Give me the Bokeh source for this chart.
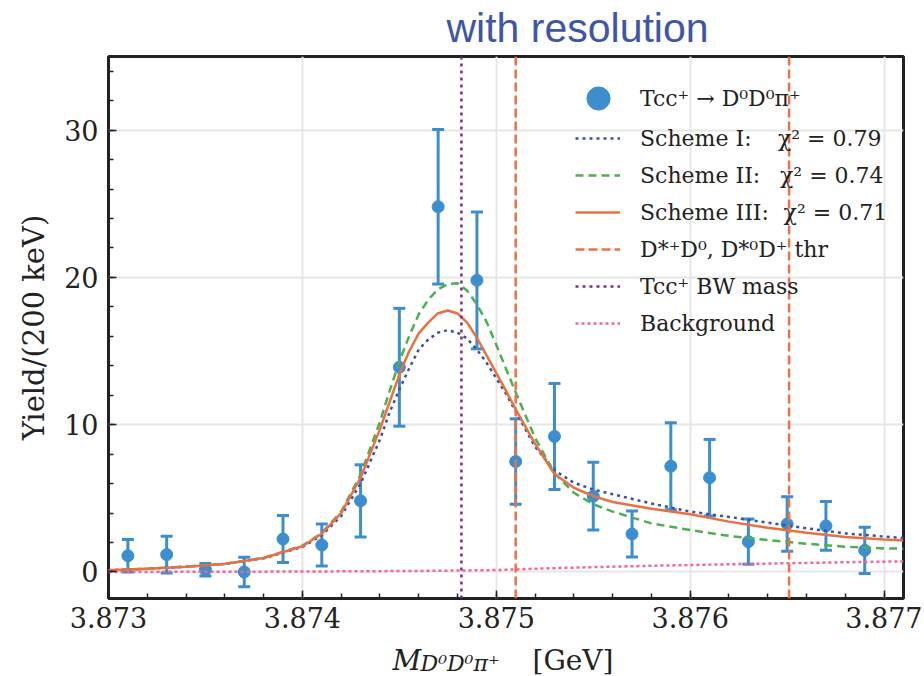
from bokeh.plotting import figure
from bokeh.layouts import column
from bokeh.models import (Range1d, FixedTicker, PrintfTickFormatter, Whisker, TeeHead,
                          ColumnDataSource, Legend, LegendItem)
from bokeh.core.properties import value
from bokeh.embed import file_html
from bokeh.resources import INLINE

# ---------------- data ----------------
bin_centers = [3.8731, 3.8733, 3.8735, 3.8737, 3.8739, 3.8741, 3.8743, 3.8745, 3.8747, 3.8749,
               3.8751, 3.8753, 3.8755, 3.8757, 3.8759, 3.8761, 3.8763, 3.8765, 3.8767, 3.8769]
yields = [1.1, 1.18, 0.15, 0.0, 2.24, 1.83, 4.83, 13.9, 24.8, 19.8,
          7.5, 9.2, 5.15, 2.58, 7.18, 6.4, 2.06, 3.26, 3.13, 1.47]
yield_err = [1.1, 1.25, 0.42, 1.0, 1.6, 1.42, 2.45, 4.0, 5.25, 4.65,
             2.9, 3.6, 2.3, 1.56, 2.95, 2.6, 1.53, 1.85, 1.65, 1.57]

fit_mass = [3.8730, 3.8732, 3.8734, 3.8736, 3.8738, 3.8740, 3.8741, 3.8742, 3.8743, 3.8744,
            3.87445, 3.8745, 3.87455, 3.8746, 3.87465, 3.8747, 3.87475, 3.8748, 3.87485, 3.8749,
            3.87495, 3.8750, 3.87505, 3.8751, 3.8752, 3.8753, 3.8754, 3.8755, 3.8756, 3.8758,
            3.8760, 3.8762, 3.8764, 3.8766, 3.8768, 3.8770, 3.8771]
scheme_1 = [0.12, 0.22, 0.36, 0.55, 0.93, 1.7, 2.5, 3.8, 6.0, 9.0,
            10.85, 12.4, 13.8, 15.1, 15.8, 16.25, 16.42, 16.25, 15.85, 15.1,
            14.2, 13.15, 12.1, 10.9, 8.5, 6.9, 6.06, 5.6, 5.28, 4.65,
            4.1, 3.74, 3.35, 2.97, 2.62, 2.41, 2.31]
scheme_2 = [0.12, 0.22, 0.36, 0.55, 0.96, 1.78, 2.65, 4.1, 6.6, 10.2,
            12.3, 14.3, 16.0, 17.5, 18.5, 19.2, 19.55, 19.6, 19.1, 18.17,
            16.98, 15.42, 13.8, 12.2, 9.1, 6.7, 5.38, 4.6, 4.1, 3.3,
            2.85, 2.45, 2.17, 1.92, 1.72, 1.6, 1.58]
scheme_3 = [0.12, 0.22, 0.36, 0.55, 0.95, 1.75, 2.6, 4.0, 6.4, 9.7,
            11.55, 13.4, 14.97, 16.2, 16.95, 17.57, 17.75, 17.55, 16.93, 15.9,
            14.7, 13.5, 12.3, 11.05, 8.7, 6.65, 5.72, 5.15, 4.75, 4.3,
            3.92, 3.42, 3.0, 2.66, 2.37, 2.2, 2.13]

bkg_mass = [3.8730, 3.8740, 3.8746, 3.8750, 3.8752, 3.8755, 3.8758, 3.8761, 3.8764, 3.8767, 3.8771]
background = [0.0, 0.03, 0.07, 0.13, 0.22, 0.33, 0.42, 0.5, 0.57, 0.64, 0.72]

thresholds = [3.87510, 3.87651]
bw_mass = [3.87482]

x_ticks = [3.873, 3.874, 3.875, 3.876, 3.877]
x_minor = [3.8730, 3.8732, 3.8734, 3.8736, 3.8738, 3.8740, 3.8742, 3.8744, 3.8746, 3.8748,
           3.8750, 3.8752, 3.8754, 3.8756, 3.8758, 3.8760, 3.8762, 3.8764, 3.8766, 3.8768, 3.8770]
y_ticks = [0, 10, 20, 30]
y_minor = [0, 2, 4, 6, 8, 10, 12, 14, 16, 18, 20, 22, 24, 26, 28, 30, 32, 34]

X_MIN, X_MAX = 3.873, 3.8771
Y_MIN, Y_MAX = -1.8, 35.0

title_text = "with resolution"
y_title = "Yield/(200 keV)"
x_title_parts = ["M", "D\u2070D\u2070\u03c0\u207a", "[GeV]"]
labels = ["Tcc\u207a \u2192 D\u2070D\u2070\u03c0\u207a",
          "Scheme I:\u2003\u2009\u03c7\u00b2 = 0.79",
          "Scheme II:\u2002\u2009\u2009\u03c7\u00b2 = 0.74",
          "Scheme III:\u2002\u2006\u03c7\u00b2 = 0.71",
          "D*\u207aD\u2070, D*\u2070D\u207a thr",
          "Tcc\u207a BW mass",
          "Background"]

# ---------------- colours / fonts ----------------
C_DATA = "#3d8ecf"
C_S1 = "#3b4fa5"
C_S2 = "#4caf50"
C_S3 = "#e97140"
C_THR = "#ec7245"
C_BW = "#7b2d8b"
C_BKG = "#f2649a"
C_TITLE = "#3f56a7"
SERIF = "DejaVu Serif"
DARK = "#222222"
W = 922
FRAME_L, FRAME_R = 108, 903   # the column aligns the strips' frames with the main frame

# ---------------- header strip (title) ----------------
p_top = figure(width=W, height=54, x_range=Range1d(FRAME_L, FRAME_R), y_range=Range1d(54, 0),
               x_axis_type=None, y_axis_type=None, output_backend="svg", toolbar_location=None,
               min_border=0, outline_line_color=None)
p_top.text(x=[446], y=[27], text=[title_text], text_font=value("Liberation Sans"),
           text_font_size="41px", text_color=C_TITLE, text_baseline="middle")

# ---------------- main plot ----------------
p = figure(width=W, height=586, output_backend="svg", toolbar_location=None,
           x_range=Range1d(X_MIN, X_MAX), y_range=Range1d(Y_MIN, Y_MAX),
           min_border_left=108, min_border_right=19, min_border_top=2, min_border_bottom=42)
p.background_fill_color = "white"
p.border_fill_color = "white"
p.outline_line_color = DARK
p.outline_line_width = 3

p.xaxis.ticker = FixedTicker(ticks=x_ticks, minor_ticks=x_minor)
p.xaxis.formatter = PrintfTickFormatter(format="%.3f")
p.yaxis.ticker = FixedTicker(ticks=y_ticks, minor_ticks=y_minor)
for ax in (p.xaxis[0], p.yaxis[0]):
    ax.axis_line_color = None
    ax.major_tick_in = 8
    ax.major_tick_out = 0
    ax.minor_tick_in = 5
    ax.minor_tick_out = 0
    ax.major_tick_line_color = DARK
    ax.minor_tick_line_color = DARK
    ax.major_tick_line_width = 1.5
    ax.minor_tick_line_width = 1.5
    ax.major_label_text_font = SERIF
    ax.major_label_text_font_size = "27px"
    ax.major_label_text_color = DARK
p.xaxis.major_label_standoff = 8
p.yaxis.major_label_standoff = 10
p.yaxis.axis_label = y_title
p.yaxis.axis_label_text_font = SERIF
p.yaxis.axis_label_text_font_size = "29px"
p.yaxis.axis_label_text_font_style = "normal"
p.yaxis.axis_label_text_color = DARK
p.yaxis.axis_label_standoff = 10

for g in (p.xgrid[0], p.ygrid[0]):
    g.grid_line_color = "#e6e6e6"
    g.grid_line_width = 2

# error bars + points
src = ColumnDataSource(dict(x=bin_centers, y=yields,
                            upper=[v + e for v, e in zip(yields, yield_err)],
                            lower=[v - e for v, e in zip(yields, yield_err)]))
wh = Whisker(source=src, base="x", upper="upper", lower="lower",
             line_color=C_DATA, line_width=3,
             upper_head=TeeHead(size=12, line_color=C_DATA, line_width=3),
             lower_head=TeeHead(size=12, line_color=C_DATA, line_width=3))
p.add_layout(wh)
r_data = p.scatter("x", "y", source=src, size=12, fill_color=C_DATA, line_color=C_DATA)

# curves
r_s1 = p.line(fit_mass, scheme_1, line_color=C_S1, line_width=2.5, line_dash="3 4")
r_s2 = p.line(fit_mass, scheme_2, line_color=C_S2, line_width=2.5, line_dash="8 5")
r_s3 = p.line(fit_mass, scheme_3, line_color=C_S3, line_width=2.5)
r_bkg = p.line(bkg_mass, background, line_color=C_BKG, line_width=2.5, line_dash="3 3")

# vertical marker lines
r_thr = p.segment(x0=thresholds, y0=[Y_MIN] * len(thresholds), x1=thresholds, y1=[Y_MAX] * len(thresholds),
                  line_color=C_THR, line_width=2.5, line_dash="9 4")
r_bw = p.segment(x0=bw_mass, y0=[Y_MIN], x1=bw_mass, y1=[Y_MAX],
                 line_color=C_BW, line_width=2.5, line_dash="3 4")

# legends (no frame)
common = dict(border_line_color=None, background_fill_alpha=0, padding=0, margin=0,
              label_text_font=SERIF, label_text_font_size="22px", label_text_color=DARK)
leg1 = Legend(items=[LegendItem(label=labels[0], renderers=[r_data])],
              location=(461, 471), glyph_width=58, glyph_height=58, label_height=58,
              label_standoff=13, spacing=0, **common)
leg2 = Legend(items=[LegendItem(label=labels[1], renderers=[r_s1]),
                     LegendItem(label=labels[2], renderers=[r_s2]),
                     LegendItem(label=labels[3], renderers=[r_s3]),
                     LegendItem(label=labels[4], renderers=[r_thr]),
                     LegendItem(label=labels[5], renderers=[r_bw]),
                     LegendItem(label=labels[6], renderers=[r_bkg])],
              location=(467, 262), glyph_width=45, glyph_height=26, label_height=26,
              label_standoff=20, spacing=11, **common)
p.add_layout(leg1)
p.add_layout(leg2)

# ---------------- footer strip (x-axis title with subscript) ----------------
p_bot = figure(width=W, height=36, x_range=Range1d(FRAME_L, FRAME_R), y_range=Range1d(36, 0),
               x_axis_type=None, y_axis_type=None, output_backend="svg", toolbar_location=None,
               min_border=0, outline_line_color=None)
p_bot.text(x=[392], y=[20], text=[x_title_parts[0]], text_font=value(SERIF), text_font_size="28px",
           text_font_style="italic", text_color=DARK, text_baseline="middle")
p_bot.text(x=[420], y=[23], text=[x_title_parts[1]], text_font=value(SERIF), text_font_size="22px",
           text_font_style="italic", text_color=DARK, text_baseline="middle")
p_bot.text(x=[532], y=[20], text=[x_title_parts[2]], text_font=value(SERIF), text_font_size="28px",
           text_color=DARK, text_baseline="middle")

layout = column(p_top, p, p_bot, spacing=0)
open("out.html", "w").write(file_html(layout, INLINE))
